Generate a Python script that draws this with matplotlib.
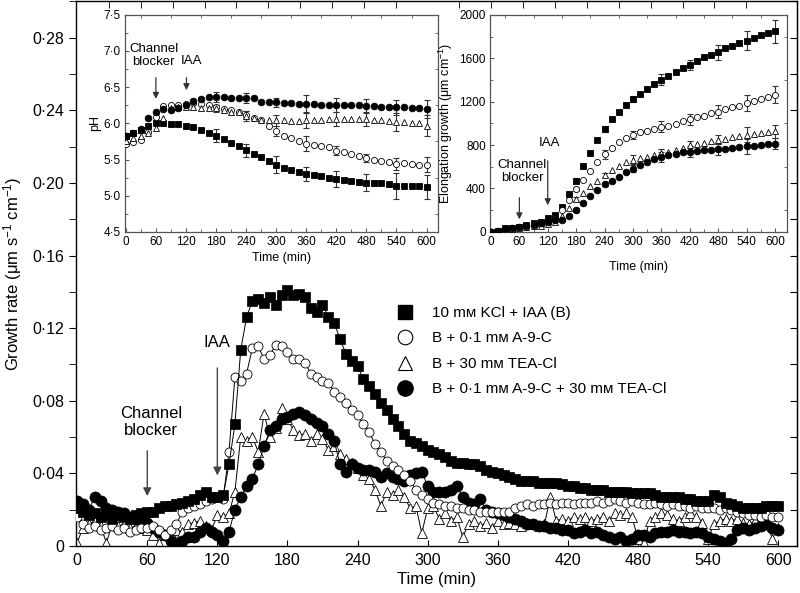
import numpy as np
import matplotlib
matplotlib.use("Agg")
import matplotlib.pyplot as plt
from matplotlib.ticker import FuncFormatter, MultipleLocator, FixedLocator
from matplotlib.lines import Line2D

plt.rcParams["font.family"] = ["Liberation Sans", "DejaVu Sans"]
plt.rcParams["mathtext.fontset"] = "custom"
plt.rcParams["mathtext.rm"] = "Liberation Sans"
plt.rcParams["mathtext.it"] = "Liberation Sans:italic"

# ---- main panel: growth rate, sampled every 5 min ----
t_main = np.arange(0, 601, 5)

rate_kcl = [
    0.021, 0.019, 0.017, 0.018, 0.016, 0.017, 0.015, 0.017, 0.016, 0.015, 0.017, 0.018,
    0.019, 0.019, 0.021, 0.022, 0.022, 0.023, 0.024, 0.025, 0.026, 0.028, 0.030, 0.027,
    0.027, 0.028, 0.045, 0.067, 0.108, 0.126, 0.135, 0.136, 0.134, 0.137, 0.133, 0.138,
    0.141, 0.138, 0.139, 0.137, 0.131, 0.129, 0.133, 0.126, 0.123, 0.114, 0.106, 0.102,
    0.099, 0.092, 0.088, 0.084, 0.079, 0.075, 0.070, 0.066, 0.062, 0.058, 0.057, 0.055,
    0.053, 0.052, 0.051, 0.049, 0.047, 0.046, 0.046, 0.045, 0.045, 0.044, 0.042, 0.041,
    0.040, 0.039, 0.038, 0.037, 0.036, 0.036, 0.036, 0.035, 0.035, 0.035, 0.035, 0.034,
    0.033, 0.033, 0.032, 0.032, 0.031, 0.031, 0.031, 0.030, 0.030, 0.030, 0.030, 0.029,
    0.029, 0.029, 0.029, 0.028, 0.027, 0.027, 0.027, 0.027, 0.026, 0.026, 0.025, 0.025,
    0.025, 0.028, 0.027, 0.024, 0.023, 0.022, 0.021, 0.021, 0.021, 0.021, 0.022, 0.022,
    0.022,
]
rate_a9c = [
    0.016, 0.012, 0.010, 0.011, 0.009, 0.010, 0.011, 0.009, 0.010, 0.008, 0.009, 0.010,
    0.010, 0.011, 0.009, 0.006, 0.009, 0.012, 0.019, 0.021, 0.022, 0.023, 0.025, 0.026,
    0.027, 0.026, 0.052, 0.093, 0.091, 0.095, 0.109, 0.110, 0.103, 0.105, 0.111, 0.110,
    0.107, 0.103, 0.103, 0.101, 0.095, 0.093, 0.091, 0.090, 0.085, 0.082, 0.079, 0.075,
    0.072, 0.067, 0.063, 0.056, 0.052, 0.047, 0.044, 0.042, 0.039, 0.036, 0.031, 0.028,
    0.026, 0.024, 0.023, 0.022, 0.022, 0.021, 0.021, 0.020, 0.020, 0.019, 0.019, 0.019,
    0.019, 0.019, 0.019, 0.021, 0.022, 0.023, 0.022, 0.023, 0.023, 0.024, 0.023, 0.024,
    0.024, 0.023, 0.024, 0.024, 0.024, 0.025, 0.024, 0.025, 0.026, 0.025, 0.024, 0.025,
    0.024, 0.023, 0.023, 0.024, 0.023, 0.022, 0.023, 0.022, 0.022, 0.021, 0.022, 0.021,
    0.021, 0.021, 0.020, 0.021, 0.020, 0.019, 0.018, 0.017, 0.017, 0.016, 0.017, 0.016,
    0.016,
]
rate_tea = [
    0.002, 0.010, 0.012, 0.014, 0.011, 0.002, 0.012, 0.011, 0.012, 0.010, 0.011, 0.010,
    0.009, 0.006, 0.002, 0.006, 0.007, 0.009, 0.008, 0.012, 0.013, 0.014, 0.011, 0.009,
    0.017, 0.016, 0.018, 0.030, 0.060, 0.058, 0.060, 0.052, 0.073, 0.060, 0.065, 0.076,
    0.070, 0.064, 0.061, 0.062, 0.058, 0.062, 0.059, 0.053, 0.055, 0.051, 0.048, 0.046,
    0.043, 0.039, 0.037, 0.031, 0.022, 0.030, 0.028, 0.031, 0.027, 0.021, 0.022, 0.007,
    0.021, 0.022, 0.015, 0.018, 0.014, 0.016, 0.005, 0.012, 0.014, 0.011, 0.013, 0.010,
    0.014, 0.012, 0.013, 0.012, 0.011, 0.013, 0.012, 0.011, 0.012, 0.027, 0.014, 0.015,
    0.014, 0.016, 0.015, 0.016, 0.014, 0.015, 0.016, 0.014, 0.018, 0.017, 0.018, 0.016,
    0.004, 0.002, 0.014, 0.016, 0.018, 0.017, 0.015, 0.014, 0.016, 0.018, 0.016, 0.013,
    0.004, 0.012, 0.014, 0.015, 0.014, 0.015, 0.013, 0.012, 0.014, 0.013, 0.014, 0.004,
    0.010,
]
rate_both = [
    0.025, 0.023, 0.020, 0.027, 0.025, 0.021, 0.020, 0.019, 0.018, 0.016, 0.015, 0.016,
    0.013, 0.010, 0.008, 0.006, 0.003, 0.001, 0.003, 0.005, 0.005, 0.008, 0.010, 0.008,
    0.006, 0.003, 0.008, 0.020, 0.027, 0.033, 0.037, 0.045, 0.055, 0.064, 0.066, 0.070,
    0.071, 0.073, 0.074, 0.072, 0.070, 0.068, 0.066, 0.062, 0.058, 0.045, 0.041, 0.045,
    0.043, 0.042, 0.042, 0.041, 0.038, 0.040, 0.038, 0.037, 0.036, 0.039, 0.040, 0.041,
    0.033, 0.030, 0.030, 0.030, 0.031, 0.033, 0.027, 0.024, 0.023, 0.026, 0.020, 0.019,
    0.018, 0.017, 0.016, 0.015, 0.014, 0.012, 0.012, 0.011, 0.011, 0.010, 0.010, 0.009,
    0.009, 0.007, 0.008, 0.009, 0.007, 0.008, 0.006, 0.005, 0.004, 0.005, 0.003, 0.004,
    0.006, 0.006, 0.005, 0.007, 0.008, 0.008, 0.009, 0.008, 0.008, 0.007, 0.008, 0.007,
    0.005, 0.004, 0.003, 0.002, 0.004, 0.009, 0.010, 0.009, 0.010, 0.011, 0.012, 0.010,
    0.009,
]

# ---- insets, sampled every 15 min ----
t_inset = np.arange(0, 601, 15)

ph_kcl = [5.82, 5.86, 5.91, 5.97, 6.00, 6.00, 5.99, 5.99, 5.97, 5.95, 5.91, 5.87, 5.83, 5.78,
          5.73, 5.68, 5.63, 5.57, 5.53, 5.48, 5.43, 5.38, 5.35, 5.33, 5.30, 5.29, 5.27, 5.25,
          5.23, 5.22, 5.20, 5.19, 5.18, 5.17, 5.17, 5.16, 5.14, 5.14, 5.13, 5.13, 5.12]
ph_a9c = [5.72, 5.74, 5.77, 5.88, 6.09, 6.24, 6.25, 6.26, 6.27, 6.28, 6.27, 6.25, 6.22, 6.20,
          6.19, 6.16, 6.12, 6.08, 6.04, 5.97, 5.90, 5.82, 5.80, 5.76, 5.72, 5.70, 5.68, 5.67,
          5.62, 5.60, 5.57, 5.55, 5.52, 5.49, 5.48, 5.47, 5.44, 5.45, 5.44, 5.43, 5.43]
ph_tea = [5.76, 5.80, 5.82, 5.87, 5.93, 6.08, 6.21, 6.23, 6.23, 6.22, 6.21, 6.21, 6.21, 6.19,
          6.16, 6.15, 6.10, 6.08, 6.05, 6.04, 6.04, 6.04, 6.03, 6.03, 6.04, 6.04, 6.05, 6.06,
          6.06, 6.06, 6.06, 6.06, 6.06, 6.05, 6.04, 6.03, 6.02, 6.02, 6.01, 6.00, 5.97]
ph_both = [5.82, 5.87, 5.92, 6.07, 6.16, 6.20, 6.18, 6.21, 6.26, 6.31, 6.34, 6.36, 6.37, 6.36,
           6.35, 6.35, 6.35, 6.35, 6.30, 6.29, 6.29, 6.28, 6.28, 6.27, 6.27, 6.27, 6.26, 6.25,
           6.25, 6.25, 6.25, 6.25, 6.24, 6.24, 6.23, 6.23, 6.22, 6.22, 6.21, 6.21, 6.20]

elong_kcl = [3, 12, 31, 40, 49, 65, 80, 95, 126, 157, 227, 350, 473, 611, 725, 842, 949, 1038,
             1109, 1170, 1226, 1272, 1318, 1358, 1401, 1438, 1472, 1508, 1539, 1570, 1607, 1631,
             1656, 1693, 1717, 1739, 1763, 1785, 1810, 1831, 1849]
elong_a9c = [3, 10, 22, 35, 45, 52, 60, 65, 80, 115, 200, 295, 395, 480, 565, 640, 715, 775,
             825, 869, 894, 919, 934, 949, 970, 980, 995, 1017, 1038, 1057, 1072, 1094, 1109,
             1134, 1149, 1161, 1186, 1210, 1223, 1247, 1263]
elong_tea = [3, 8, 18, 28, 38, 45, 52, 58, 70, 90, 150, 220, 300, 360, 420, 470, 525, 571,
             611, 640, 664, 680, 692, 706, 725, 738, 752, 770, 796, 808, 820, 834, 848, 860,
             872, 886, 897, 906, 914, 920, 925]
elong_both = [3, 10, 25, 33, 45, 55, 65, 80, 95, 105, 112, 150, 200, 270, 330, 390, 440, 472,
              510, 550, 582, 612, 642, 668, 690, 708, 722, 732, 740, 746, 752, 756, 760, 768,
              774, 780, 788, 794, 800, 806, 814]

# error bars (every 60 min from 180 min)
err_t = [180, 240, 300, 360, 420, 480, 540, 600]
ph_err_kcl = [0.085, 0.09, 0.12, 0.10, 0.115, 0.115, 0.18, 0.17]
ph_err_a9c = [0.03, 0.05, 0.07, 0.10, 0.06, 0.06, 0.08, 0.10]
ph_err_tea = [0.05, 0.07, 0.07, 0.10, 0.10, 0.09, 0.12, 0.15]
ph_err_both = [0.07, 0.07, 0.06, 0.12, 0.10, 0.10, 0.10, 0.12]
el_err_kcl = [25, 30, 30, 50, 45, 70, 90, 105]
el_err_a9c = [20, 40, 40, 50, 50, 60, 75, 80]
el_err_tea = [20, 20, 40, 40, 40, 40, 70, 60]
el_err_both = [20, 20, 30, 45, 50, 50, 70, 50]

labels = ["10 mᴍ KCl + IAA (B)", "B + 0·1 mᴍ A-9-C", "B + 30 mᴍ TEA-Cl",
          "B + 0·1 mᴍ A-9-C + 30 mᴍ TEA-Cl"]


def dot_fmt(dec):
    return FuncFormatter(lambda v, p: "0" if abs(v) < 1e-9 else f"{v:.{dec}f}".replace(".", "·"))


styles = [
    dict(marker="s", mfc="k", mec="k"),
    dict(marker="o", mfc="w", mec="k"),
    dict(marker="^", mfc="w", mec="k"),
    dict(marker="o", mfc="k", mec="k"),
]
main_ms = [7.0, 6.5, 7.0, 8.0]
main_mew = [0.5, 0.6, 0.6, 0.5]
main_z = [5, 4, 2, 3]

fig = plt.figure(figsize=(8, 5.93), dpi=100)
ax = fig.add_axes([0.095, 0.079, 0.901, 0.919])

series = [rate_kcl, rate_a9c, rate_tea, rate_both]
for ys, st, ms, mew, z in zip(series, styles, main_ms, main_mew, main_z):
    ax.plot(t_main, ys, color="k", lw=0.7, ms=ms, mew=mew, zorder=z, **st)

ax.set_xlim(-1, 616)
ax.set_ylim(0, 0.30)
ax.set_xticks(range(0, 601, 60))
ax.xaxis.set_minor_locator(FixedLocator(np.linspace(0, 600, 23)))
ax.tick_params(axis="x", which="major", direction="in", length=4, labelsize=11.5, pad=5)
ax.tick_params(axis="x", which="minor", bottom=False, top=True, direction="in", length=5)
ax.yaxis.set_major_locator(MultipleLocator(0.04))
ax.yaxis.set_minor_locator(MultipleLocator(0.02))
ax.yaxis.set_major_formatter(dot_fmt(2))
ax.tick_params(axis="y", which="both", direction="out", length=5, labelsize=11.5)
sec = ax.secondary_yaxis("right")
sec.yaxis.set_major_locator(MultipleLocator(0.02))
sec.tick_params(direction="in", length=5, labelright=False)
for s in ax.spines.values():
    s.set_linewidth(1.0)

ax.set_xlabel("Time (min)", fontsize=12, labelpad=3)
ax.set_ylabel("Growth rate (μm s$^{-1}$ cm$^{-1}$)", fontsize=12, labelpad=6)

arrow_kw = dict(arrowstyle="-|>", color="#444444", lw=1.0, mutation_scale=12)
ax.annotate("", xy=(120, 0.0374), xytext=(120, 0.0996), arrowprops=arrow_kw)
ax.text(120, 0.112, "IAA", ha="center", va="center", fontsize=12)
ax.annotate("", xy=(60, 0.026), xytext=(60, 0.054), arrowprops=arrow_kw)
ax.text(63, 0.0685, "Channel\nblocker", ha="center", va="center", fontsize=12, linespacing=1.15)

handles = [Line2D([], [], ls="none", marker="s", ms=9.5, mfc="k", mec="k"),
           Line2D([], [], ls="none", marker="o", ms=10.5, mfc="w", mec="k", mew=0.8),
           Line2D([], [], ls="none", marker="^", ms=10.5, mfc="w", mec="k", mew=0.8),
           Line2D([], [], ls="none", marker="o", ms=11, mfc="k", mec="k")]
ax.legend(handles, labels, loc="upper left", bbox_to_anchor=(397 / 800, 1 - 306 / 593),
          bbox_transform=fig.transFigure, frameon=False, fontsize=11, handlelength=1.0,
          handletextpad=1.3, labelspacing=0.75, borderpad=0, borderaxespad=0)

# ---- inset styling helper ----
inset_ms = [4.8, 4.4, 4.6, 4.8]
grey = "#555555"


def style_inset(a):
    for s in a.spines.values():
        s.set_color(grey)
        s.set_linewidth(0.9)
    a.set_xticks(range(0, 601, 60))
    a.tick_params(which="both", direction="in", color=grey, labelsize=8.5, pad=3)
    a.tick_params(which="major", length=3)
    a.tick_params(which="minor", length=2, top=True, right=True)


# pH inset
ax1 = fig.add_axes([0.156, 0.609, 0.391, 0.366])
for ys, errs, st, ms in zip([ph_kcl, ph_a9c, ph_tea, ph_both],
                            [ph_err_kcl, ph_err_a9c, ph_err_tea, ph_err_both], styles, inset_ms):
    ax1.plot(t_inset, ys, ls="none", ms=ms, mew=0.6, zorder=3, **st)
    idx = [int(t) // 15 for t in err_t]
    ax1.errorbar(err_t, [ys[i] for i in idx], yerr=errs, fmt="none", ecolor="#333333",
                 elinewidth=0.8, capsize=2, capthick=0.8, zorder=2)
ax1.set_xlim(-2, 622)
ax1.set_ylim(4.5, 7.5)
ax1.yaxis.set_major_locator(MultipleLocator(0.5))
ax1.yaxis.set_minor_locator(MultipleLocator(0.25))
ax1.xaxis.set_minor_locator(MultipleLocator(30))
ax1.yaxis.set_major_formatter(dot_fmt(1))
style_inset(ax1)
ax1.set_xlabel("Time (min)", fontsize=9, labelpad=3)
ax1.set_ylabel("pH", fontsize=9, labelpad=2)
ins_arrow = dict(arrowstyle="-|>", color="#333333", lw=0.9, mutation_scale=9)
ax1.annotate("", xy=(60, 6.30), xytext=(60, 6.67), arrowprops=ins_arrow)
ax1.annotate("", xy=(121, 6.42), xytext=(121, 6.67), arrowprops=ins_arrow)
ax1.text(56, 6.94, "Channel\nblocker", ha="center", va="center", fontsize=9.5, linespacing=1.1)
ax1.text(132, 6.86, "IAA", ha="center", va="center", fontsize=9.5)

# elongation inset
ax2 = fig.add_axes([0.6125, 0.609, 0.371, 0.366])
for ys, errs, st, ms in zip([elong_kcl, elong_a9c, elong_tea, elong_both],
                            [el_err_kcl, el_err_a9c, el_err_tea, el_err_both], styles, inset_ms):
    ax2.plot(t_inset, ys, ls="none", ms=ms, mew=0.6, zorder=3, **st)
    idx = [int(t) // 15 for t in err_t]
    ax2.errorbar(err_t, [ys[i] for i in idx], yerr=errs, fmt="none", ecolor="#333333",
                 elinewidth=0.8, capsize=2, capthick=0.8, zorder=2)
ax2.set_xlim(-2, 625)
ax2.set_ylim(0, 2000)
ax2.yaxis.set_major_locator(MultipleLocator(400))
ax2.yaxis.set_minor_locator(MultipleLocator(200))
ax2.xaxis.set_minor_locator(MultipleLocator(30))
style_inset(ax2)
ax2.set_xlabel("Time (min)", fontsize=9, labelpad=9)
ax2.set_ylabel("Elongation growth (μm cm$^{-1}$)", fontsize=9, labelpad=3)
ax2.annotate("", xy=(60, 90), xytext=(60, 340), arrowprops=ins_arrow)
ax2.annotate("", xy=(120, 220), xytext=(120, 680), arrowprops=ins_arrow)
ax2.text(66, 560, "Channel\nblocker", ha="center", va="center", fontsize=9.5, linespacing=1.1)
ax2.text(123, 820, "IAA", ha="center", va="center", fontsize=9.5)

fig.savefig("out.png", dpi=100)
